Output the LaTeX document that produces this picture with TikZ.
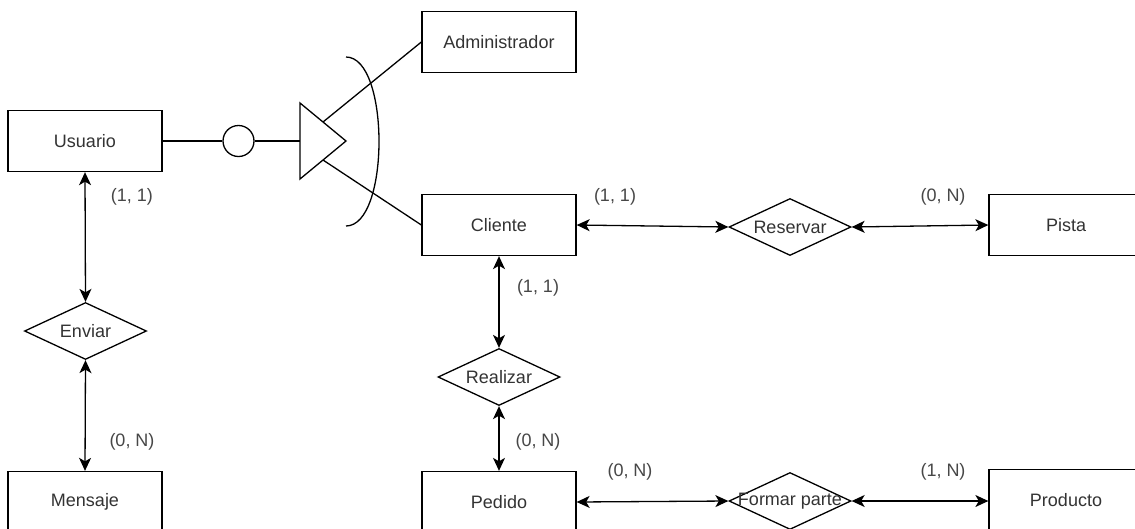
\documentclass[tikz,border=0pt]{standalone}
\usepackage{fontspec}
\setmainfont{Liberation Sans}
\usetikzlibrary{shapes.geometric,arrows.meta}
\begin{document}
\begin{tikzpicture}[x=1pt,y=-1pt,
  font=\fontsize{18}{21}\selectfont,
  line width=1.3pt,
  entity/.style={draw=black,rectangle,minimum width=154pt,minimum height=61pt,inner sep=0pt,text=black!80},
  relation/.style={draw=black,diamond,aspect=2,minimum width=122pt,minimum height=57pt,inner sep=0pt,text=black!80},
  card/.style={text=black!72,inner sep=0pt},
  link/.style={{Stealth[length=13pt,width=12pt,inset=3.5pt]}-{Stealth[length=13pt,width=12pt,inset=3.5pt]}}
]
\fill[white] (0,0) rectangle (1135,528);
\useasboundingbox (0,0) rectangle (1135,528);

% entities
\node[entity] (usuario)  at (85,141)   {Usuario};
\node[entity] (admin)    at (499,42)   {Administrador};
\node[entity] (cliente)  at (499,225)  {Cliente};
\node[entity] (pista)    at (1066,225) {Pista};
\node[entity] (mensaje)  at (85,502)   {Mensaje};
\node[entity] (pedido)   at (499,502)  {Pedido};
\node[entity] (producto) at (1066,500) {Producto};

% relationships
\node[relation] (enviar)   at (85.5,331) {\makebox[0pt]{Enviar}};
\node[relation] (realizar) at (499,377)  {\makebox[0pt]{Realizar}};
\node[relation] (reservar) at (790,227)  {\makebox[0pt]{Reservar}};
\node[relation] (formar)   at (790,501)  {\makebox[0pt]{Formar parte}};

% specialisation: circle, triangle and the covering arc
\node[draw=black,circle,minimum size=31pt,inner sep=0pt] (disj) at (238.5,141) {};
\coordinate (tl) at (300,103);
\coordinate (tr) at (346,141);
\coordinate (tb) at (300,179);
\coordinate (tw) at (300,141);
\coordinate (tup) at (323,122);
\coordinate (tdn) at (323,160);
\draw[line join=miter] (tl) -- (tr) -- (tb) -- cycle;
\draw (usuario.east) -- (disj.west);
\draw (disj.east) -- (tw);
\draw (tup) -- (admin.west);
\draw (tdn) -- (cliente.west);
\coordinate (arcA) at (346,57);
\coordinate (arcB) at (346,226);
\draw (arcA) .. controls (390,57) and (390,226) .. (arcB);

% relationship links
\draw[link] (usuario.south) -- (enviar.north);
\draw[link] (enviar.south) -- (mensaje.north);
\draw[link] (cliente.south) -- (realizar.north);
\draw[link] (realizar.south) -- (pedido.north);
\draw[link] (cliente.east) -- (reservar.west);
\draw[link] (reservar.east) -- (pista.west);
\draw[link] (pedido.east) -- (formar.west);
\draw[link] (formar.east) -- (producto.west |- formar.east);

% cardinalities
\node[card] (c1) at (132,197) {(1, 1)};
\node[card] (c2) at (132,442) {(0, N)};
\node[card] (c3) at (538,288) {(1, 1)};
\node[card] (c4) at (538,442) {(0, N)};
\node[card] (c5) at (615,197) {(1, 1)};
\node[card] (c6) at (943,197) {(0, N)};
\node[card] (c7) at (630,472) {(0, N)};
\node[card] (c8) at (943,472) {(1, N)};
\end{tikzpicture}
\end{document}
